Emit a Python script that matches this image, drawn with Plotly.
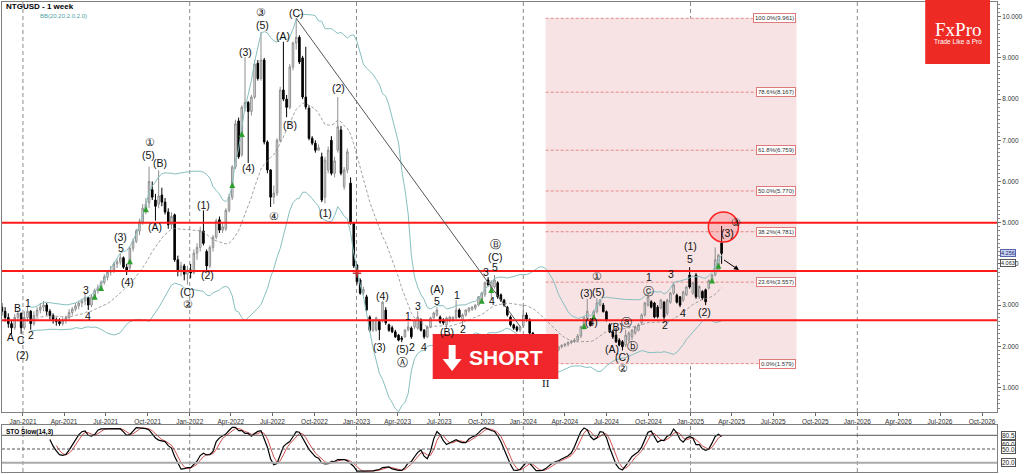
import pandas as pd
import numpy as np
import plotly.graph_objects as go

# ---------------- data ----------------
start_date = "2020-11-16"   # weekly candles (Mondays)

opens = [
 2.95, 2.85, 2.7, 2.55, 2.45, 2.7, 2.8, 2.45, 2.7, 2.85,
 2.55, 2.75, 2.88, 2.95, 3.0, 2.85, 2.75, 2.65, 2.6, 2.55,
 2.62, 2.7, 2.82, 2.9, 2.98, 3.05, 3.1, 3.18, 3.0, 3.2,
 3.35, 3.42, 3.55, 3.68, 3.8, 3.85, 4.0, 4.05, 4.15, 3.92,
 3.9, 4.38, 4.55, 4.8, 5.02, 5.35, 5.48, 5.8, 5.55, 5.45,
 5.67, 5.5, 5.26, 4.95, 5.19, 4.1, 3.85, 3.95, 3.75, 3.85,
 3.78, 4.26, 4.4, 4.8, 4.3, 3.95, 4.4, 4.65, 5.07, 4.82,
 4.85, 5.3, 5.62, 6.35, 7.47, 6.65, 7.8, 7.92, 7.7, 8.05,
 8.87, 8.5, 8.95, 6.96, 6.28, 5.62, 5.72, 7.0, 8.22, 8.0,
 7.8, 8.78, 9.36, 9.5, 9.0, 8.05, 7.78, 7.05, 6.93, 6.76,
 6.6, 5.62, 6.28, 7.0, 6.2, 6.76, 7.25, 5.87, 6.28, 5.96,
 4.99, 3.97, 3.61, 3.3, 3.2, 2.71, 2.39, 2.4, 2.6, 2.62,
 2.88, 2.52, 2.45, 2.35, 2.27, 2.2, 2.23, 2.4, 2.44, 2.47,
 2.44, 2.64, 2.39, 2.23, 2.47, 2.69, 2.76, 2.71, 2.64, 2.52,
 2.62, 2.65, 2.69, 2.88, 2.64, 2.76, 2.86, 2.9, 2.93, 3.0,
 3.07, 3.25, 3.61, 3.32, 3.44, 3.54, 3.25, 3.12, 2.95, 2.71,
 2.52, 2.47, 2.39, 2.5, 2.76, 2.64, 2.32, 2.05, 1.85, 1.72,
 1.7, 1.8, 1.9, 1.85, 1.91, 1.99, 2.02, 2.05, 2.09, 2.12,
 2.15, 2.25, 2.44, 2.69, 2.64, 2.72, 2.84, 3.0, 3.0, 2.84,
 2.52, 2.35, 2.27, 2.15, 2.11, 2.03, 2.15, 2.23, 2.32, 2.39,
 2.57, 2.76, 3.0, 3.08, 3.05, 2.95, 2.93, 3.07, 2.8, 3.07,
 3.29, 3.24, 3.2, 3.12, 3.25, 3.73, 3.29, 3.73, 3.2, 3.33,
 3.37, 3.41, 3.61, 3.73, 3.85, 4.51]

highs = [
 3.05, 2.95, 2.8, 2.62, 2.78, 2.88, 2.82, 2.85, 2.98, 2.88,
 2.85, 2.95, 3.05, 3.1, 3.05, 2.9, 2.8, 2.7, 2.68, 2.7,
 2.75, 2.9, 2.95, 3.05, 3.1, 3.15, 3.3, 3.2, 3.25, 3.4,
 3.5, 3.6, 3.75, 3.85, 3.95, 4.05, 4.12, 4.25, 4.18, 4.0,
 4.42, 4.62, 4.85, 5.1, 5.45, 5.6, 6.36, 6.0, 5.7, 6.27,
 5.85, 5.6, 5.35, 5.25, 5.22, 4.2, 4.05, 4.0, 3.95, 4.0,
 4.35, 4.5, 4.9, 5.3, 4.35, 4.45, 4.7, 5.1, 5.15, 5.0,
 5.35, 5.7, 6.4, 7.5, 7.55, 7.85, 9.02, 7.95, 8.1, 8.95,
 8.95, 9.63, 9.0, 7.0, 6.3, 5.9, 7.05, 8.3, 9.39, 8.1,
 8.85, 9.4, 9.961, 9.55, 9.05, 9.27, 7.85, 7.1, 7.0, 6.9,
 6.7, 6.6, 6.85, 7.1, 6.6, 8.05, 7.35, 6.35, 6.8, 6.1,
 5.0, 4.0, 3.65, 3.45, 3.25, 2.75, 2.66, 2.72, 2.65, 3.1,
 2.95, 2.55, 2.5, 2.4, 2.3, 2.25, 2.42, 2.6, 2.48, 2.66,
 2.85, 2.68, 2.42, 2.5, 2.72, 2.84, 2.95, 2.75, 2.68, 2.72,
 2.74, 2.73, 3.12, 2.92, 2.8, 2.9, 2.95, 2.98, 3.02, 3.22,
 3.32, 3.58, 3.68, 3.6, 3.73, 3.58, 3.28, 3.15, 2.98, 2.75,
 2.55, 2.5, 2.5, 3.0, 2.82, 2.68, 2.35, 2.1, 1.9, 1.8,
 1.85, 1.95, 1.98, 1.98, 2.0, 2.05, 2.08, 2.12, 2.15, 2.2,
 2.3, 2.5, 2.72, 3.15, 2.68, 2.88, 3.17, 3.15, 3.05, 2.87,
 2.56, 2.4, 2.45, 2.2, 2.15, 2.4, 2.36, 2.42, 2.5, 2.56,
 2.8, 3.08, 3.28, 3.12, 3.08, 3.0, 3.15, 3.1, 3.15, 3.32,
 3.54, 3.28, 3.22, 3.35, 3.47, 3.92, 3.56, 3.78, 3.48, 3.36,
 3.4, 3.62, 3.76, 4.4, 4.24, 4.92]

lows = [
 2.75, 2.6, 2.45, 2.3, 2.4, 2.6, 2.3, 2.4, 2.6, 2.4,
 2.5, 2.7, 2.8, 2.85, 2.75, 2.65, 2.55, 2.5, 2.5, 2.5,
 2.55, 2.65, 2.75, 2.85, 2.9, 2.95, 3.0, 2.88, 2.95, 3.15,
 3.28, 3.35, 3.5, 3.6, 3.72, 3.78, 3.9, 3.98, 3.88, 3.73,
 3.85, 4.3, 4.5, 4.7, 4.95, 5.2, 5.35, 5.55, 5.05, 5.35,
 5.4, 5.2, 4.85, 4.85, 4.05, 3.7, 3.7, 3.6, 3.5, 3.65,
 3.75, 4.1, 4.3, 4.45, 3.8, 3.9, 4.3, 4.6, 4.75, 4.75,
 4.8, 5.25, 5.55, 6.3, 6.55, 6.6, 7.7, 6.45, 7.6, 8.0,
 8.45, 8.45, 6.9, 6.2, 5.38, 5.45, 5.65, 6.95, 7.95, 7.56,
 7.75, 8.7, 9.2, 8.85, 8.0, 7.75, 7.0, 6.88, 6.7, 6.75,
 5.5, 5.47, 6.2, 6.15, 6.1, 6.7, 6.15, 5.8, 6.2, 4.95,
 3.9, 3.5, 3.25, 3.25, 2.85, 2.35, 2.35, 2.36, 2.15, 2.58,
 2.52, 2.35, 2.32, 2.2, 2.12, 2.1, 2.2, 2.36, 2.18, 2.42,
 2.4, 2.36, 2.18, 2.2, 2.44, 2.66, 2.72, 2.55, 2.52, 2.42,
 2.58, 2.6, 2.65, 2.68, 2.5, 2.72, 2.82, 2.86, 2.88, 2.97,
 3.04, 3.2, 3.45, 3.12, 3.4, 3.15, 3.08, 2.96, 2.72, 2.48,
 2.4, 2.35, 2.34, 2.45, 2.6, 2.28, 2.0, 1.8, 1.68, 1.62,
 1.579, 1.75, 1.8, 1.8, 1.88, 1.95, 1.98, 2.0, 2.05, 2.08,
 2.12, 2.2, 2.4, 2.62, 2.48, 2.6, 2.8, 2.97, 2.82, 2.6,
 2.32, 2.18, 2.08, 2.0, 1.9, 1.98, 2.1, 2.15, 2.28, 2.36,
 2.52, 2.72, 2.96, 2.92, 2.68, 2.68, 2.9, 2.62, 2.75, 3.03,
 3.25, 3.04, 2.95, 3.08, 3.22, 3.4, 3.25, 3.15, 3.15, 3.12,
 3.0, 3.38, 3.58, 3.7, 3.8, 4.0]

closes = [
 2.85, 2.7, 2.55, 2.45, 2.7, 2.8, 2.45, 2.7, 2.85, 2.55,
 2.75, 2.88, 2.95, 3.0, 2.85, 2.75, 2.65, 2.6, 2.55, 2.62,
 2.7, 2.82, 2.9, 2.98, 3.05, 3.1, 3.18, 3.0, 3.2, 3.35,
 3.42, 3.55, 3.68, 3.8, 3.85, 4.0, 4.05, 4.15, 3.92, 3.85,
 4.38, 4.55, 4.8, 5.02, 5.35, 5.45, 6.0, 5.62, 5.4, 5.65,
 5.5, 5.26, 4.95, 5.15, 4.1, 3.85, 3.95, 3.75, 3.85, 3.78,
 4.26, 4.4, 4.8, 4.5, 3.95, 4.4, 4.65, 5.05, 4.82, 4.9,
 5.3, 5.62, 6.35, 7.4, 6.6, 7.8, 7.92, 7.7, 8.05, 8.85,
 8.5, 8.95, 6.96, 6.28, 5.62, 5.72, 7.0, 8.22, 8.0, 7.8,
 8.78, 9.36, 9.5, 8.9, 8.05, 7.81, 7.05, 6.93, 6.76, 6.82,
 5.55, 6.52, 6.76, 6.2, 6.5, 7.33, 6.2, 6.28, 6.72, 4.99,
 3.95, 3.57, 3.29, 3.38, 2.88, 2.39, 2.62, 2.69, 2.4, 3.07,
 2.57, 2.39, 2.35, 2.23, 2.15, 2.17, 2.39, 2.47, 2.23, 2.64,
 2.71, 2.39, 2.23, 2.47, 2.69, 2.81, 2.88, 2.59, 2.57, 2.69,
 2.71, 2.7, 2.88, 2.71, 2.76, 2.88, 2.93, 2.95, 3.0, 3.2,
 3.29, 3.54, 3.49, 3.56, 3.61, 3.2, 3.12, 3.0, 2.76, 2.52,
 2.44, 2.39, 2.47, 2.76, 2.66, 2.32, 2.05, 1.85, 1.72, 1.7,
 1.8, 1.9, 1.85, 1.93, 1.99, 2.02, 2.05, 2.09, 2.12, 2.15,
 2.25, 2.48, 2.69, 2.85, 2.5, 2.84, 3.05, 3.12, 2.84, 2.64,
 2.35, 2.23, 2.11, 2.03, 1.99, 2.27, 2.32, 2.39, 2.47, 2.52,
 2.76, 3.05, 3.2, 2.95, 2.71, 2.72, 3.12, 2.71, 3.12, 3.29,
 3.49, 3.07, 3.0, 3.32, 3.44, 3.44, 3.54, 3.2, 3.45, 3.17,
 3.08, 3.6, 3.73, 4.1, 4.21, 4.256]

# signal candles (green = buy arrow, red = sell cross)
buy_signal_idx = [29, 31, 40, 45, 72, 75, 150, 153, 182, 185, 222, 224]
sell_signal_idx = [111]

# horizontal key levels (red)
key_levels = [5.0, 3.83, 2.63]

# Fibonacci retracement (low 1.579 -> high 9.961)
fib_low, fib_high = 1.579, 9.961
fib_ratios = [1.0, 0.786, 0.618, 0.5, 0.382, 0.236, 0.0]
fib_start, fib_end = "2024-02-19", "2025-08-21"

# trend line from (C) top
trend_start = ("2022-08-22", 9.961)
trend_end = ("2023-12-25", 2.48)

# current price tags
last_price, other_price = 4.256, 4.063
sto_tags = ["80.5", "60.0", "50.0", "20.0"]

# wave labels: (week index, price, text)
wave_labels = [
 (2.8, 2.22, "A"), (5.0, 2.93, "B"), (6.0, 2.15, "C"), (8.1, 3.05, "1"), (9.1, 2.27, "2"), (6.3, 1.79, "(2)"),
 (26.2, 3.37, "3"), (26.8, 2.74, "4"), (37.1, 4.39, "5"), (37.1, 4.65, "(3)"), (39.3, 3.56, "(4)"),
 (45.9, 6.64, "(5)"), (46.2, 6.96, "①"), (49.3, 6.45, "(B)"), (48.0, 4.9, "(A)"), (58.0, 3.32, "(C)"), (58.3, 3.03, "②"),
 (63.0, 5.43, "(1)"), (64.2, 3.73, "(2)"),
 (76.1, 9.14, "(3)"), (77.0, 6.33, "(4)"), (81.0, 10.11, "③"), (81.4, 9.8, "(5)"), (85.1, 5.16, "④"),
 (88.0, 9.53, "(A)"), (90.1, 7.37, "(B)"), (92.0, 10.09, "(C)"),
 (101.3, 5.23, "(1)"), (105.1, 8.27, "(2)"),
 (118.2, 1.98, "(3)"), (119.1, 3.22, "(4)"), (125.3, 1.93, "(5)"), (125.3, 1.62, "Ⓐ"),
 (126.9, 2.74, "1"), (128.2, 1.98, "2"), (130.0, 2.98, "3"), (131.9, 1.98, "4"), (135.9, 3.1, "5"), (135.9, 3.39, "(A)"),
 (139.0, 2.35, "(B)"), (142.2, 3.25, "1"), (144.0, 2.42, "2"), (151.2, 3.8, "3"), (153.1, 3.1, "4"), (154.3, 3.92, "5"),
 (154.3, 4.17, "(C)"), (154.3, 4.48, "Ⓑ"),
 (182.7, 3.29, "(3)"), (184.3, 2.59, "(4)"), (186.4, 3.32, "(5)"), (186.1, 3.71, "①"),
 (192.0, 2.47, "(B)"), (195.4, 2.6, "ⓐ"), (190.6, 1.93, "(A)"), (194.1, 1.75, "(C)"), (194.2, 1.47, "②"), (197.0, 2.0, "ⓑ"),
 (202.0, 3.34, "ⓒ"), (202.3, 3.68, "1"), (207.3, 2.52, "2"), (209.2, 3.76, "3"), (212.9, 2.81, "4"), (215.1, 4.12, "5"),
 (215.4, 4.43, "(1)"), (219.5, 2.83, "(2)"), (226.7, 4.75, "(3)"), (229.5, 5.02, "③"),
]
roman_label = (170.2, 1.11, "II")

# ---------------- indicators ----------------
dates = pd.date_range(start_date, periods=len(closes), freq="7D")
cs, hs, ls = pd.Series(closes), pd.Series(highs), pd.Series(lows)
bb_mid = cs.rolling(20, min_periods=10).mean()
bb_sd = cs.rolling(20, min_periods=10).std(ddof=0)
bb_up = bb_mid + 2.0 * bb_sd
bb_lo = bb_mid - 2.0 * bb_sd

ll14 = ls.rolling(14).min()
hh14 = hs.rolling(14).max()
fast_k = 100 * (cs - ll14) / (hh14 - ll14)
slow_k = fast_k.rolling(3).mean()
slow_d = slow_k.rolling(3).mean()

# ---------------- layout helpers ----------------
W, H = 1024, 474
ML, MR, MT, MB = 1, 25, 2, 2
PW, PH = W - ML - MR, H - MT - MB
def px(x):
    return (x - ML) / PW
def py(y):
    return (H - MB - y) / PH
def wd(k):
    return pd.Timestamp(start_date) + pd.Timedelta(days=7 * k)

FONT = "Liberation Sans, Arial, sans-serif"

fig = go.Figure()

fig.add_trace(go.Scatter(x=dates, y=bb_up, mode="lines", line=dict(color="#86bfc0", width=1),
                         hoverinfo="skip", xaxis="x", yaxis="y"))
fig.add_trace(go.Scatter(x=dates, y=bb_lo, mode="lines", line=dict(color="#86bfc0", width=1),
                         hoverinfo="skip", xaxis="x", yaxis="y"))
fig.add_trace(go.Scatter(x=dates, y=bb_mid, mode="lines", line=dict(color="#8a8a8a", width=0.8, dash="3px,2px"),
                         hoverinfo="skip", xaxis="x", yaxis="y"))

fig.add_trace(go.Candlestick(
    x=dates, open=opens, high=highs, low=lows, close=closes,
    increasing=dict(line=dict(color="#8e8e8e", width=1), fillcolor="#ececec"),
    decreasing=dict(line=dict(color="#000000", width=1), fillcolor="#000000"),
    whiskerwidth=0, hoverinfo="skip", xaxis="x", yaxis="y"))

buy_y = [(opens[i] + closes[i]) / 2 for i in buy_signal_idx]
fig.add_trace(go.Scatter(x=[dates[i] for i in buy_signal_idx], y=buy_y, mode="markers",
                         marker=dict(symbol="arrow-up", size=6, color="#2e9e2e"),
                         hoverinfo="skip", xaxis="x", yaxis="y"))
sell_y = [(opens[i] + closes[i]) / 2 for i in sell_signal_idx]
fig.add_trace(go.Scatter(x=[dates[i] for i in sell_signal_idx], y=sell_y, mode="markers",
                         marker=dict(symbol="cross-thin", size=6, line=dict(color="#d03030", width=1.5)),
                         hoverinfo="skip", xaxis="x", yaxis="y"))

# stochastic
fig.add_trace(go.Scatter(x=dates, y=slow_d, mode="lines", line=dict(color="#d05050", width=1),
                         hoverinfo="skip", xaxis="x2", yaxis="y2"))
fig.add_trace(go.Scatter(x=dates, y=slow_k, mode="lines", line=dict(color="#000000", width=1.2),
                         hoverinfo="skip", xaxis="x2", yaxis="y2"))

shapes = []
# Fib zone
fib_levels = [fib_low + r * (fib_high - fib_low) for r in fib_ratios]
shapes.append(dict(type="rect", xref="x", yref="y", x0=fib_start, x1=fib_end, y0=fib_low, y1=fib_high,
                   fillcolor="#f7e3e4", line=dict(width=0), layer="below"))
for lv in fib_levels:
    shapes.append(dict(type="line", xref="x", yref="y", x0=fib_start, x1="2025-06-12", y0=lv, y1=lv,
                       line=dict(color="#e07070", width=0.8, dash="3px,2px"), layer="below"))
# January gridlines
for yr in range(2021, 2027):
    for yref in ("y domain", "y2 domain"):
        shapes.append(dict(type="line", xref="x", yref=yref, x0=f"{yr}-01-01", x1=f"{yr}-01-01", y0=0, y1=1,
                           line=dict(color="#8c8c8c", width=1, dash="4px,3px"), layer="below"))
# key levels
for lv in key_levels:
    shapes.append(dict(type="line", xref="paper", yref="y", x0=0, x1=1, y0=lv, y1=lv,
                       line=dict(color="#ff1a1a", width=2)))
# trend line
shapes.append(dict(type="line", xref="x", yref="y", x0=trend_start[0], y0=trend_start[1],
                   x1=trend_end[0], y1=trend_end[1], line=dict(color="#555555", width=1)))
# red circle
shapes.append(dict(type="circle", xref="x", yref="y", x0="2025-02-09", x1="2025-04-16", y0=4.53, y1=5.26,
                   fillcolor="rgba(255,60,60,0.22)", line=dict(color="#ff2020", width=1.5)))
# stoch levels
shapes.append(dict(type="line", xref="paper", yref="y2", x0=0, x1=1, y0=80, y1=80, line=dict(color="#555555", width=1)))
shapes.append(dict(type="line", xref="paper", yref="y2", x0=0, x1=1, y0=50, y1=50, line=dict(color="#555555", width=1, dash="3px,2px")))
shapes.append(dict(type="line", xref="paper", yref="y2", x0=0, x1=1, y0=20, y1=20, line=dict(color="#aaaaaa", width=2)))
# FxPro logo box
shapes.append(dict(type="rect", xref="paper", yref="paper", x0=px(927), x1=px(992), y0=py(64), y1=py(0),
                   fillcolor="#ee2a24", line=dict(width=0)))
# SHORT button
shapes.append(dict(type="rect", xref="paper", yref="paper", x0=px(433), x1=px(559), y0=py(379), y1=py(334),
                   fillcolor="#f1262b", line=dict(width=0)))
# down arrow on button
arrow_pts = [(449, 345), (456, 345), (456, 359), (462, 359), (452.5, 371), (443, 359), (449, 359)]
path = "M " + " L ".join(f"{px(a):.5f},{py(b):.5f}" for a, b in arrow_pts) + " Z"
shapes.append(dict(type="path", xref="paper", yref="paper", path=path, fillcolor="white", line=dict(width=0)))

ann = []
for k, p, t in wave_labels:
    ann.append(dict(x=wd(k), y=p, xref="x", yref="y", text=t, showarrow=False,
                    xanchor="center", yanchor="middle",
                    font=dict(family=FONT, size=10.5, color="#111111")))
ann.append(dict(x=wd(roman_label[0]), y=roman_label[1], xref="x", yref="y", text=roman_label[2], showarrow=False,
                xanchor="center", yanchor="middle",
                font=dict(family="Liberation Serif, serif", size=11, color="#111111")))
for r, lv in zip(fib_ratios, fib_levels):
    ann.append(dict(x="2025-08-19", y=lv, xref="x", yref="y", xanchor="right", text=f"{r*100:.1f}%({lv:.3f})",
                    showarrow=False, font=dict(family=FONT, size=6, color="#333333"),
                    bgcolor="white", bordercolor="#e07a7a", borderwidth=1, borderpad=1))
# arrow near last candle
ann.append(dict(x="2025-04-17", y=3.85, ax="2025-03-12", ay=4.12, xref="x", yref="y", axref="x", ayref="y",
                text="", showarrow=True, arrowhead=2, arrowsize=1, arrowwidth=1, arrowcolor="#000000"))
# title + indicator names
ann.append(dict(x=px(3), y=py(7), xref="paper", yref="paper", xanchor="left", yanchor="middle",
                text="<b>NTGUSD - 1 week</b>", showarrow=False, font=dict(family=FONT, size=8, color="#000000")))
ann.append(dict(x=px(37), y=py(15.5), xref="paper", yref="paper", xanchor="left", yanchor="middle",
                text="BB(20,20,2.0,2.0)", showarrow=False, font=dict(family=FONT, size=6, color="#4f9f9f")))
ann.append(dict(x=px(3), y=py(432), xref="paper", yref="paper", xanchor="left", yanchor="middle",
                text="<b>STO Slow(14,3)</b>", showarrow=False, font=dict(family=FONT, size=6.5, color="#000000")))
# logo text
ann.append(dict(x=px(959.5), y=py(29), xref="paper", yref="paper", text="FxPro", showarrow=False,
                xanchor="center", yanchor="middle",
                font=dict(family="Liberation Serif, serif", size=19, color="white")))
ann.append(dict(x=px(959.5), y=py(41.5), xref="paper", yref="paper", text="Trade Like a Pro", showarrow=False,
                xanchor="center", yanchor="middle",
                font=dict(family=FONT, size=6.5, color="white")))
# SHORT text
ann.append(dict(x=px(467), y=py(357), xref="paper", yref="paper", xanchor="left", yanchor="middle",
                text="<b>SHORT</b>", showarrow=False, font=dict(family=FONT, size=21, color="white")))
# price tags
ann.append(dict(x=px(1002), y=py(253), xref="paper", yref="paper", xanchor="left", yanchor="middle",
                text=f"{last_price:.3f}",
                showarrow=False, font=dict(family=FONT, size=5.5, color="#222266"),
                bgcolor="#c9d3f2", bordercolor="#5a64a8", borderwidth=1, borderpad=0))
ann.append(dict(x=px(1002), y=py(262.5), xref="paper", yref="paper", xanchor="left", yanchor="middle",
                text=f"{other_price:.3f}",
                showarrow=False, font=dict(family=FONT, size=5.5, color="#222222"),
                bgcolor="white", bordercolor="#555555", borderwidth=1, borderpad=0))
for t in sto_tags:
    ann.append(dict(x=px(1003), y=float(t), xref="paper", yref="y2", xanchor="left", yanchor="middle", text=t,
                    showarrow=False, font=dict(family=FONT, size=6.5, color="#222222"),
                    bgcolor="white", bordercolor="#555555", borderwidth=1, borderpad=0))

fig.update_layout(
    width=W, height=H, margin=dict(l=ML, r=MR, t=MT, b=MB),
    paper_bgcolor="white", plot_bgcolor="white", showlegend=False,
    font=dict(family=FONT, size=7, color="#333333"),
    shapes=shapes, annotations=ann,
    xaxis=dict(domain=[0, 1], anchor="y", type="date",
               range=["2020-11-16 04:00", "2026-11-02 17:00"],
               tickformat="%b-%Y", dtick="M3", tick0="2021-01-01",
               ticks="outside", ticklen=3, tickcolor="#666666",
               tickfont=dict(size=6.5, color="#333333"),
               showgrid=False, zeroline=False, showline=True, linecolor="#7f7f7f", mirror=True,
               rangeslider=dict(visible=False)),
    yaxis=dict(domain=[py(412), py(MT)], anchor="x", side="right",
               range=[0.405, 10.357], tickformat=".3f", dtick=1, tick0=0,
               ticks="outside", ticklen=3, tickcolor="#666666",
               minor=dict(ticks="outside", ticklen=2, dtick=0.1, tickcolor="#888888"),
               tickfont=dict(size=6.5, color="#333333"),
               showgrid=False, zeroline=False, showline=True, linecolor="#7f7f7f", mirror=True),
    xaxis2=dict(domain=[0, 1], anchor="y2", matches="x", type="date", showticklabels=False,
                ticks="", showgrid=False, zeroline=False, showline=True, linecolor="#7f7f7f", mirror=True,
                rangeslider=dict(visible=False)),
    yaxis2=dict(domain=[py(472), py(425)], anchor="x2", side="right", range=[-0.4, 102.6],
                showticklabels=False, ticks="", showgrid=False, zeroline=False,
                showline=True, linecolor="#7f7f7f", mirror=True),
)

fig.write_html("out.html", config={"displayModeBar": False},
               post_script="document.body.style.margin='0';document.body.style.overflow='hidden';")
